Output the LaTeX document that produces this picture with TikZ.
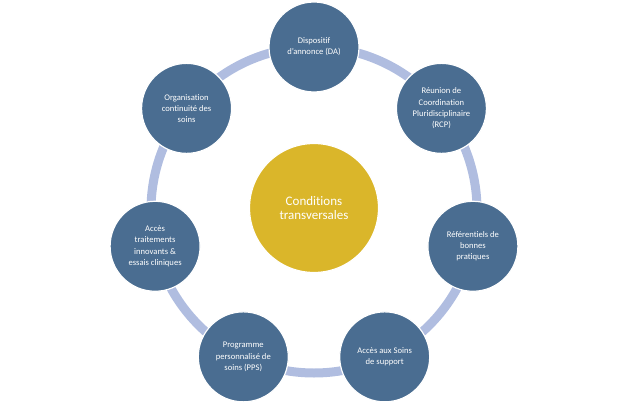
\documentclass[tikz,border=0pt]{standalone}
\usepackage{fontspec}
\setmainfont{Carlito}[Ligatures=CommonOff]
\usetikzlibrary{calc}
\definecolor{ringc}{HTML}{B0BDE0}
\definecolor{nodec}{HTML}{4A6D91}
\definecolor{goldc}{HTML}{DAB62A}
\tikzset{
  item/.style={circle, fill=nodec, draw=white, line width=1.2pt, minimum size=90pt, inner sep=0pt, text=white, align=center, font=\fontsize{8.6}{11.2}\selectfont},
  hub/.style={circle, fill=goldc, draw=white, line width=1.2pt, minimum size=129pt, inner sep=0pt, text=white, align=center, font=\fontsize{13}{14.5}\selectfont},
  ring/.style={draw=ringc, line width=9pt}
}
\begin{document}
\begin{tikzpicture}[x=1pt,y=1pt]
\useasboundingbox (0,0) rectangle (628,-401);
\coordinate (c) at (314,-210);
\draw[ring] (c) circle (163);
\node[hub] (hubn) at (314,-208) {Conditions\\transversales};
\node[item] (n1) at ($(c)+(90:163)$) {Dispositif\\d'annonce (DA)};
\node[item] (n2) at ($(c)+(38.57:163)$) {Réunion de\\Coordination\\Pluridisciplinaire\\(RCP)};
\node[item] (n3) at ($(c)+(-12.86:163)$) {Référentiels de\\bonnes\\pratiques};
\node[item] (n4) at ($(c)+(-64.29:163)$) {Accès aux Soins\\de support};
\node[item] (n5) at ($(c)+(-115.71:163)$) {Programme\\personnalisé de\\soins (PPS)};
\node[item] (n6) at ($(c)+(-167.14:163)$) {Accès\\traitements\\innovants \&\\essais cliniques};
\node[item] (n7) at ($(c)+(141.43:163)$) {Organisation\\continuité des\\soins};
\end{tikzpicture}
\end{document}
